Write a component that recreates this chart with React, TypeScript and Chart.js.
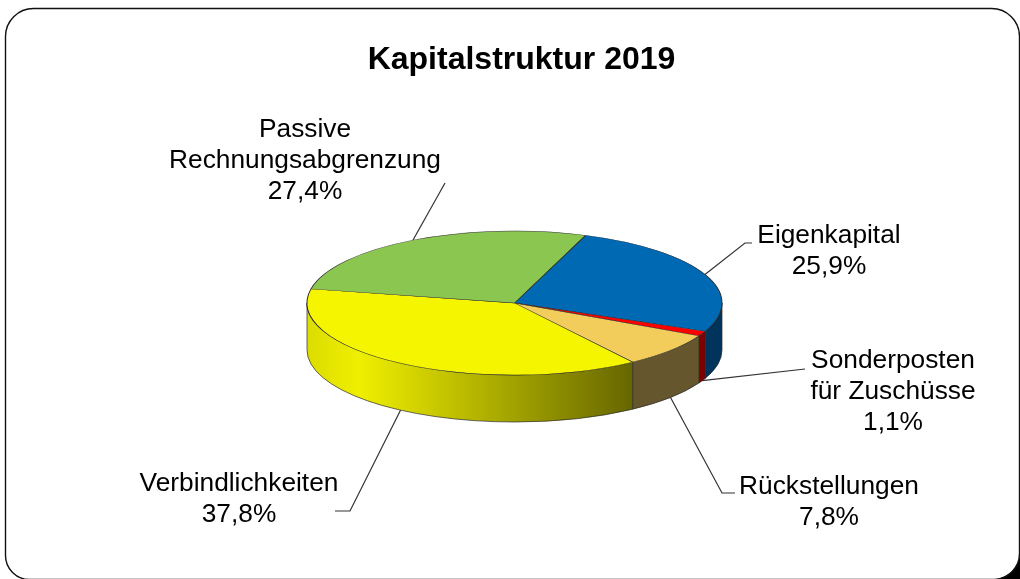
import React, { useEffect, useRef } from "react";
import { Chart, registerables } from "chart.js";

Chart.register(...registerables);

const categories = [
  ["Eigenkapital"],
  ["Sonderposten", "für Zuschüsse"],
  ["Rückstellungen"],
  ["Verbindlichkeiten"],
  ["Passive", "Rechnungsabgrenzung"],
];
const shares = [25.9, 1.1, 7.8, 37.8, 27.4];
const topColors = ["#0069b4", "#ff0000", "#f2cd5c", "#f5f500", "#8bc651"];
const sideColors = ["#00345a", "#7f0000", "#66562e", "#f5f500", "#466328"];
const titleText = "Kapitalstruktur 2019";

// layout of the 3D look and the outside labels
const CX = 514.5, CY = 303, RX = 207.5, RY = 72, DEPTH = 47;
const FONT = '26.3px "Liberation Sans", Arial, sans-serif';
const LINE_H = 30.7;
// [label centre x, first line y]
const labelPos = [[829, 236], [893, 361], [829, 487], [239, 484], [305, 130]];
// leader: elbow point, then end point
const leaders = [
  [[745, 243], [752, 243]],
  [[805, 369], [805, 369]],
  [[722, 493], [735, 493]],
  [[350, 511], [335, 511]],
  [[445, 183], [445, 183]],
];

const pie3d = {
  id: "pie3d",
  beforeDatasetsDraw(chart: any) {
    const ctx = chart.ctx;
    const arcs = chart.getDatasetMeta(0).data;
    ctx.save();
    // leaders first: the pie covers their inner ends
    arcs.forEach((a: any, i: number) => {
      const { startAngle, endAngle } = a.getProps(["startAngle", "endAngle"], true);
      const mid = (startAngle + endAngle) / 2;
      const front = Math.sin(mid) > 0 && i !== 0;
      const x = CX + RX * Math.cos(mid);
      const y = CY + RY * Math.sin(mid) + (front ? DEPTH : 0);
      ctx.beginPath();
      ctx.moveTo(x, y);
      leaders[i].forEach((p) => ctx.lineTo(p[0], p[1]));
      ctx.strokeStyle = "#333333";
      ctx.lineWidth = 1.2;
      ctx.stroke();
    });
    // side wall: the part of each slice on the front half of the ellipse
    arcs.forEach((a: any, i: number) => {
      const { startAngle, endAngle } = a.getProps(["startAngle", "endAngle"], true);
      for (const turn of [0, 2 * Math.PI, -2 * Math.PI]) {
        const s = Math.max(startAngle + turn, 0);
        const e = Math.min(endAngle + turn, Math.PI);
        if (e <= s) continue;
        ctx.beginPath();
        ctx.ellipse(CX, CY, RX, RY, 0, s, e);
        ctx.ellipse(CX, CY + DEPTH, RX, RY, 0, e, s, true);
        ctx.closePath();
        if (i === 3) {
          const x1 = CX + RX * Math.cos(s);
          const g = ctx.createLinearGradient(CX - RX, 0, x1, 0);
          g.addColorStop(0, "#dcdc00");
          g.addColorStop(0.16, "#efef00");
          g.addColorStop(1, "#666600");
          ctx.fillStyle = g;
        } else {
          ctx.fillStyle = sideColors[i];
        }
        ctx.fill();
        ctx.strokeStyle = "#2a2a2a";
        ctx.lineWidth = 0.7;
        ctx.stroke();
      }
    });
    ctx.restore();
    // squash the flat pie into the top ellipse
    const { x: px, y: py, outerRadius } = arcs[0].getProps(["x", "y", "outerRadius"], true);
    ctx.save();
    ctx.translate(CX, CY);
    ctx.scale(RX / outerRadius, RY / outerRadius);
    ctx.translate(-px, -py);
  },
  afterDatasetsDraw(chart: any) {
    const ctx = chart.ctx;
    ctx.restore();
    ctx.save();
    ctx.font = FONT;
    ctx.fillStyle = "#000000";
    ctx.textAlign = "center";
    ctx.textBaseline = "middle";
    categories.forEach((lines, i) => {
      const text = [...lines, shares[i].toFixed(1).replace(".", ",") + "%"];
      text.forEach((t, j) => {
        ctx.fillText(t, labelPos[i][0], labelPos[i][1] + j * LINE_H);
      });
    });
    ctx.restore();
  },
};

const frame = {
  id: "frame",
  beforeDraw(chart: any) {
    const ctx = chart.ctx;
    ctx.save();
    ctx.fillStyle = "#ffffff";
    ctx.fillRect(0, 0, 1020, 579);
    // dark corner outside the rounded frame, bottom right
    ctx.beginPath();
    ctx.moveTo(1020, 553);
    ctx.quadraticCurveTo(1018, 574, 996, 579);
    ctx.lineTo(1020, 579);
    ctx.closePath();
    ctx.fillStyle = "#000000";
    ctx.fill();
    ctx.beginPath();
    ctx.roundRect(5.5, 8.5, 1014, 571, [28, 28, 26, 24]);
    ctx.strokeStyle = "#111111";
    ctx.lineWidth = 1.4;
    ctx.stroke();
    ctx.restore();
  },
};

export default function App() {
  const ref = useRef<HTMLCanvasElement>(null);
  useEffect(() => {
    document.body.style.margin = "0";
    const chart = new Chart(ref.current!, {
      type: "pie",
      data: {
        labels: categories.map((c) => c.join(" ")),
        datasets: [
          {
            data: shares,
            backgroundColor: topColors,
            borderColor: "#2a2a2a",
            borderWidth: 1,
            clip: false,
          } as any,
        ],
      },
      options: {
        responsive: false,
        animation: false,
        rotation: 20,
        layout: { padding: { top: 41, bottom: 68.5, left: 314, right: 291 } },
        plugins: {
          legend: { display: false },
          tooltip: { enabled: false },
          title: {
            display: true,
            text: titleText,
            color: "#000000",
            font: { family: '"Liberation Sans", Arial, sans-serif', size: 32, weight: "bold", lineHeight: 1.2 },
            padding: { top: 0, bottom: 16.1 },
          },
        },
      },
      plugins: [frame, pie3d],
    });
    return () => chart.destroy();
  }, []);
  return <canvas ref={ref} width={1020} height={579} style={{ display: "block" }} />;
}
